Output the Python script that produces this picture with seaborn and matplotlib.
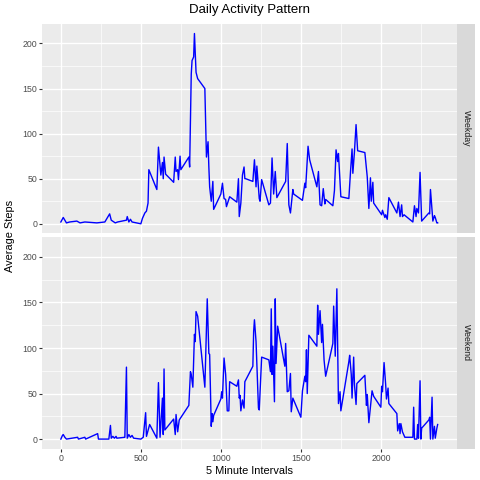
import matplotlib
matplotlib.use("Agg")
import matplotlib.pyplot as plt
from matplotlib.ticker import MultipleLocator
import seaborn as sns
import pandas as pd

weekday_interval = [0, 15, 35, 55, 100, 120, 150, 225, 275, 305, 315, 340, 355, 410, 415, 425, 435, 445, 500,
                    510, 525, 535, 545, 550, 600, 610, 625, 635, 640, 645, 655, 705, 715, 720, 730, 735, 745, 750,
                    800, 805, 815, 820, 830, 835, 845, 855, 900, 910, 920, 925, 930, 940, 950, 955,
                    1000, 1010, 1020, 1030, 1035, 1055, 1100, 1110, 1115, 1125, 1135, 1145, 1150, 1155,
                    1200, 1210, 1220, 1225, 1240, 1245, 1255, 1300, 1310, 1320, 1330, 1340, 1350,
                    1405, 1415, 1425, 1435, 1450, 1455, 1510, 1525, 1530, 1545, 1555,
                    1600, 1610, 1620, 1630, 1640, 1650, 1655, 1700, 1710, 1720, 1730, 1735, 1750,
                    1800, 1810, 1820, 1825, 1835, 1845, 1855, 1900, 1915, 1925, 1935, 1940, 1950, 1955,
                    2005, 2010, 2025, 2030, 2040, 2050, 2100, 2110, 2120, 2130, 2135, 2145,
                    2200, 2210, 2220, 2225, 2235, 2245, 2255, 2300, 2305, 2310, 2325, 2335, 2340, 2350, 2355]
weekday_steps = [2, 7, 1, 2, 3, 1, 2, 1, 2, 11, 4, 1, 2, 4, 8, 2, 5, 2, 0,
                 6, 12, 14, 23, 60, 38, 85, 54, 68, 50, 74, 55, 46, 74, 58, 60, 49, 75, 60,
                 74, 63, 166, 181, 185, 211, 168, 161, 150, 74, 91, 63, 41, 25, 47, 16,
                 33, 45, 28, 27, 19, 30, 24, 50, 8, 23, 54, 63, 50, 50,
                 47, 71, 41, 64, 28, 25, 49, 21, 23, 73, 33, 58, 29,
                 47, 89, 21, 12, 38, 33, 26, 45, 40, 86, 71,
                 41, 58, 21, 20, 39, 22, 27, 20, 37, 82, 69, 78, 30,
                 28, 57, 83, 56, 80, 110, 81, 79, 52, 17, 51, 25, 46, 23,
                 10, 15, 7, 10, 5, 29, 12, 24, 8, 21, 8, 10,
                 2, 20, 8, 17, 12, 57, 3, 12, 11, 38, 3, 9, 7, 1, 1]

weekend_interval = [0, 10, 15, 25, 35, 105, 110, 150, 155, 230, 235, 300, 310, 315, 325, 335, 345, 350,
                    400, 410, 415, 425, 435, 445, 455, 500, 515, 530, 535, 555,
                    600, 610, 620, 635, 640, 645, 650, 705, 715, 720, 730, 740,
                    800, 810, 815, 825, 835, 840, 845, 855, 900, 915, 925, 930, 940, 945, 950, 955,
                    1000, 1005, 1010, 1020, 1030, 1040, 1050, 1055, 1100, 1110, 1115, 1120, 1125, 1135, 1145, 1150,
                    1200, 1205, 1210, 1220, 1235, 1240, 1255, 1300, 1310, 1315, 1320, 1325, 1335, 1340, 1345, 1355,
                    1400, 1405, 1415, 1425, 1435, 1440, 1450, 1500, 1510, 1525, 1530, 1535, 1540, 1550,
                    1600, 1605, 1610, 1620, 1630, 1635, 1645, 1655, 1700, 1705, 1715, 1725, 1735, 1745, 1750,
                    1800, 1805, 1815, 1820, 1830, 1835, 1845, 1850, 1900, 1910, 1915, 1925, 1945, 1955,
                    2000, 2005, 2010, 2020, 2025, 2030, 2035, 2045, 2050, 2100, 2105, 2115, 2120, 2125, 2135, 2150,
                    2200, 2205, 2210, 2225, 2230, 2235, 2245, 2250, 2255, 2300, 2305, 2310, 2320, 2325, 2335, 2340,
                    2350, 2355]
weekend_steps = [0, 4, 5, 2, 0, 2, 0, 2, 0, 6, 0, 0, 15, 1, 3, 1, 3, 1,
                 2, 79, 1, 5, 2, 4, 1, 0, 2, 29, 3, 16,
                 1, 62, 2, 45, 5, 77, 10, 22, 5, 27, 8, 21,
                 37, 74, 71, 57, 115, 107, 140, 135, 57, 154, 94, 93, 14, 28, 19, 26,
                 44, 52, 45, 89, 71, 31, 31, 63, 58, 65, 45, 48, 31, 43, 34, 63,
                 80, 118, 131, 107, 34, 32, 90, 87, 74, 143, 71, 102, 41, 154, 83, 124,
                 80, 105, 52, 53, 72, 30, 45, 24, 53, 69, 63, 98, 50, 114,
                 102, 147, 115, 141, 106, 126, 87, 69, 105, 146, 91, 165, 39, 52, 31,
                 85, 92, 71, 45, 90, 60, 38, 61, 70, 37, 49, 18, 53, 47,
                 35, 58, 52, 84, 72, 60, 44, 56, 39, 28, 9, 17, 6, 17, 8, 2,
                 2, 35, 0, 0, 16, 1, 64, 0, 12, 21, 24, 0, 46, 0, 14, 1,
                 12, 16]

panels = ["Weekday", "Weekend"]
title = "Daily Activity Pattern"
xlabel = "5 Minute Intervals"
ylabel = "Average Steps"

df = pd.concat([
    pd.DataFrame({"interval": weekday_interval, "steps": weekday_steps, "day": panels[0]}),
    pd.DataFrame({"interval": weekend_interval, "steps": weekend_steps, "day": panels[1]}),
])

plt.rcParams["font.family"] = ["Liberation Sans", "DejaVu Sans"]

W = H = 480.0
fig = plt.figure(figsize=(4.8, 4.8), dpi=100)
fig.patch.set_facecolor("white")

left, right = 42.0, 456.5
strip_r = 475.0
rows = [(24.0, 233.3), (237.3, 448.7)]

PANEL = "#EBEBEB"
GRID = "white"
STRIP = "#D9D9D9"
TICKC = "#4D4D4D"

allsteps = weekday_steps + weekend_steps
allx = weekday_interval + weekend_interval
ymin, ymax = min(allsteps), max(allsteps)
ypad = 0.05 * (ymax - ymin)
xmin, xmax = min(allx), max(allx)
xpad = 0.05 * (xmax - xmin)

for i, (name, (top, bot)) in enumerate(zip(panels, rows)):
    ax = fig.add_axes([left / W, 1 - bot / H, (right - left) / W, (bot - top) / H])
    ax.set_facecolor(PANEL)
    sub = df[df["day"] == name]
    sns.lineplot(data=sub, x="interval", y="steps", ax=ax, color="#0000FF", linewidth=1.0,
                 estimator=None, sort=True)
    ax.set_xlim(xmin - xpad, xmax + xpad)
    ax.set_ylim(ymin - ypad, ymax + ypad)
    ax.xaxis.set_major_locator(MultipleLocator(500))
    ax.xaxis.set_minor_locator(MultipleLocator(250))
    ax.yaxis.set_major_locator(MultipleLocator(50))
    ax.yaxis.set_minor_locator(MultipleLocator(25))
    ax.grid(which="major", color=GRID, linewidth=1.0)
    ax.grid(which="minor", color=GRID, linewidth=0.5)
    ax.set_axisbelow(True)
    for s in ax.spines.values():
        s.set_visible(False)
    ax.tick_params(which="major", length=2.0, width=0.8, color="#333333", labelcolor=TICKC,
                   labelsize=6.3, pad=1.5)
    ax.tick_params(which="minor", length=0)
    ax.set_xlabel("")
    ax.set_ylabel("")
    if i == 0:
        ax.tick_params(axis="x", which="major", length=0, labelbottom=False)

    sax = fig.add_axes([(right + 0.5) / W, 1 - bot / H, (strip_r - right - 0.5) / W, (bot - top) / H])
    sax.set_facecolor(STRIP)
    sax.set_xticks([])
    sax.set_yticks([])
    for s in sax.spines.values():
        s.set_visible(False)
    sax.text(0.5, 0.5, name, rotation=270, ha="center", va="center", fontsize=6.3,
             color="#1A1A1A", transform=sax.transAxes)

fig.text(249 / W, 1 - 10 / H, title, ha="center", va="center", fontsize=9.5, color="black")
fig.text(249 / W, 1 - 471 / H, xlabel, ha="center", va="center", fontsize=7.9, color="black")
fig.text(10 / W, 1 - 236 / H, ylabel, ha="center", va="center", rotation=90, fontsize=7.9, color="black")

fig.savefig("out.png", dpi=100)
